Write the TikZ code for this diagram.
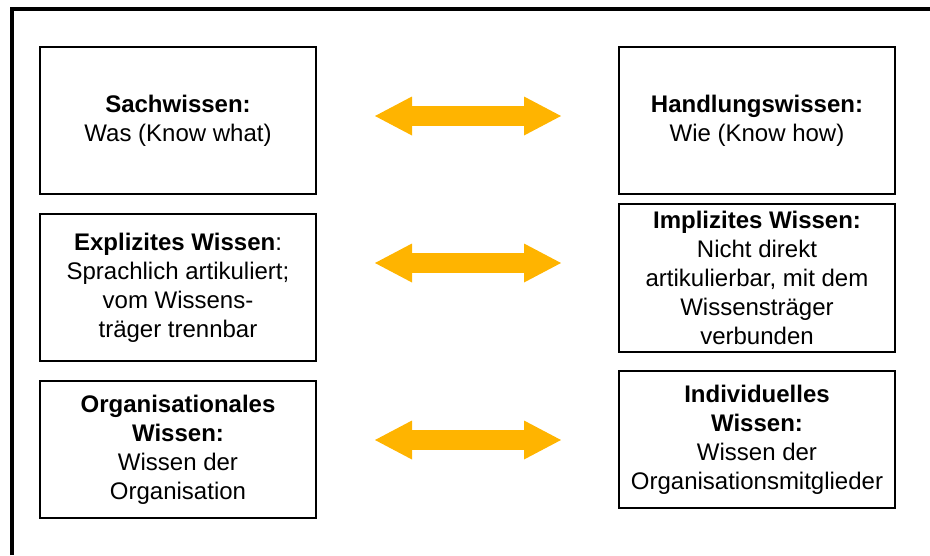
\documentclass[tikz,border=0pt]{standalone}
\usepackage{fontspec}
\setmainfont{Liberation Sans}
\usepackage{xcolor}
\usepackage{tikz}
\usetikzlibrary{arrows.meta}

\definecolor{pfeilgelb}{HTML}{FFB400}

\tikzset{
  wbox/.style={draw, rectangle, line width=1.1pt, align=center, inner sep=0pt,
    minimum width=276pt, font=\fontsize{24}{29}\selectfont},
  pfeil/.style={line width=20pt, color=pfeilgelb,
    {Triangle[length=37pt,width=39pt,line width=0pt]}-{Triangle[length=37pt,width=39pt,line width=0pt]}}
}

\begin{document}
\begin{tikzpicture}[x=1pt, y=-1pt]
        \useasboundingbox (0,0) rectangle (930,555);
        % Rahmen
        \draw[line width=3.5pt] (12,555) -- (12,9) -- (930,9);

        \node[wbox, minimum height=147pt] (sach) at (178,120.5) {\textbf{Sachwissen:}\\Was (Know what)};
        \node[wbox, minimum height=147pt] (handl) at (757,120.5) {\textbf{Handlungswissen:}\\Wie (Know how)};
        \node[wbox, minimum height=147pt] (expl) at (178,287.5) {\textbf{Explizites Wissen}:\\Sprachlich artikuliert;\\vom Wissens-\\tr\"ager trennbar};
        \node[wbox, minimum height=148pt] (impl) at (757,278) {\textbf{Implizites Wissen:}\\Nicht direkt\\artikulierbar, mit dem\\Wissenstr\"ager\\verbunden};
        \node[wbox, minimum height=137pt] (orga) at (178,449.5) {\textbf{Organisationales}\\\textbf{Wissen:}\\Wissen der\\Organisation};
        \node[wbox, minimum height=137pt] (indiv) at (757,439.5) {\textbf{Individuelles}\\\textbf{Wissen:}\\Wissen der\\Organisationsmitglieder};

        % Doppelpfeile
        \coordinate (p1l) at (375,116);
        \coordinate (p1r) at (561,116);
        \coordinate (p2l) at (375,263);
        \coordinate (p2r) at (561,263);
        \coordinate (p3l) at (375,440);
        \coordinate (p3r) at (561,440);
        \draw[pfeil] (p1l) -- (p1r);
        \draw[pfeil] (p2l) -- (p2r);
        \draw[pfeil] (p3l) -- (p3r);
    \end{tikzpicture}
\end{document}
